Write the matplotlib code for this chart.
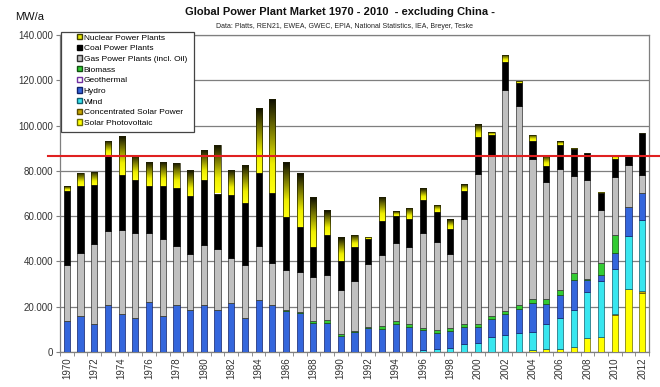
import numpy as np
import matplotlib
matplotlib.use("Agg")
import matplotlib.pyplot as plt
from matplotlib.patches import Patch, Rectangle
from matplotlib.colors import LinearSegmentedColormap
from matplotlib.ticker import FuncFormatter

plt.rcParams['font.family'] = ['Liberation Sans', 'DejaVu Sans']

years = list(range(1970, 2013))

# MW per year, stacking order bottom -> top
solar_pv = [0]*34 + [900, 1200, 1200, 2400, 6100, 6800, 16500, 27700, 26000]
csp = [0]*40 + [300, 0, 800]
wind = [0]*26 + [900, 1500, 1900, 3400, 3800, 6800, 7500, 8500, 8100, 11000,
                 14000, 16200, 20500, 24700, 20000, 23400, 31700]
hydro = [13500, 16000, 12300, 20700, 16700, 15200, 22000, 16100, 20600, 18600,
         20600, 18400, 21600, 15200, 22800, 20600, 18200, 17200, 12700, 13000,
         7100, 8900, 10400, 10100, 12300, 11000, 8600, 6800, 7400, 7800,
         7100, 7600, 9200, 10500, 12500, 9200, 10100, 13400, 5300, 2700,
         6800, 12800, 11900]
geothermal = [0]*43
biomass = [0]*15 + [300, 400, 400, 1200, 1200, 900, 500, 800, 1400, 1600,
                    1400, 1000, 1500, 1200, 1200, 1300, 1500, 1600, 1800, 1800,
                    1900, 2000, 2800, 400, 5000, 7900, 0, 0]
gas = [24800, 27800, 35500, 32900, 37200, 37200, 30400, 33600, 26400, 24900,
       26800, 26900, 20000, 23100, 24200, 18500, 17800, 17600, 19100, 19700,
       19500, 22000, 27800, 31300, 34100, 34100, 42200, 38900, 32700, 46300,
       66400, 70800, 97300, 88000, 61900, 51700, 53700, 42800, 43600, 23400,
       25600, 18700, 7600]
coal = [32900, 29500, 25900, 32800, 24400, 23400, 21000, 23700, 25500, 25500,
        28700, 24700, 27700, 27300, 32000, 30900, 23400, 20200, 13500, 17800,
        12900, 14800, 10700, 14900, 12100, 12100, 14500, 13200, 11200, 12500,
        16300, 9000, 12300, 10000, 7800, 7000, 10400, 12000, 11800, 7700,
        8100, 4600, 18800]
nuclear = [2200, 5900, 5800, 7000, 17300, 11400, 10600, 10600, 11100, 11400,
           13300, 21300, 11100, 17000, 28900, 41600, 24200, 23500, 22000, 10900,
           10400, 5600, 1300, 10800, 2200, 5200, 5200, 3200, 4300, 2800,
           5600, 1300, 3400, 1000, 2700, 4700, 1600, 300, 0, 500,
           1800, 0, 0]

reference_line = 86500
tick_labels = [str(y) if (y - 1970) % 2 == 0 else '' for y in years]

series = [
    ('Solar Photovoltaic', solar_pv, '#ffff00', '#6b6b00'),
    ('Concentrated Solar Power', csp, '#c8a800', '#5a4a00'),
    ('Wind', wind, '#38e6ef', '#106070'),
    ('Hydro', hydro, '#3466dc', '#10206a'),
    ('Geothermal', geothermal, '#ffffff', '#7030a0'),
    ('Biomass', biomass, '#33cc33', '#105010'),
    ('Gas Power Plants (incl. Oil)', gas, '#c0c0c0', '#303030'),
    ('Coal Power Plants', coal, '#000000', '#000000'),
]

fig = plt.figure(figsize=(6.6, 3.87), dpi=100)
W, H = 660, 387
ax = fig.add_axes([60/W, 1-352/H, 589/W, 317/H])

x = np.arange(len(years))
bw = 0.45
bottom = np.zeros(len(years))
for name, vals, fc, ec in series:
    v = np.array(vals, dtype=float)
    ax.bar(x, v, bw, bottom=bottom, color=fc, edgecolor=ec, linewidth=0.5, zorder=3)
    bottom += v

# nuclear with vertical gradient (yellow bottom -> black top)
nuc = np.array(nuclear, dtype=float)
cmap = LinearSegmentedColormap.from_list('nuc', [(0, '#ffff10'), (0.3, '#eeee00'), (1.0, '#0c0c00')])
grad = np.linspace(0, 1, 64).reshape(-1, 1)
bars = ax.bar(x, nuc, bw, bottom=bottom, facecolor='none', edgecolor='#202000', linewidth=0.5, zorder=4)
for b, v in zip(bars, nuc):
    if v <= 0:
        continue
    x0, y0, w, h = b.get_x(), b.get_y(), b.get_width(), b.get_height()
    im = ax.imshow(grad, extent=(x0, x0 + w, y0, y0 + h), origin='lower', aspect='auto',
                   cmap=cmap, zorder=3.5, interpolation='bilinear')
    im.set_clip_path(b)

ax.set_xlim(-0.5, len(years) - 0.5)
ax.set_ylim(0, 140000)
ax.set_yticks(np.arange(0, 140001, 20000))
ax.yaxis.set_major_formatter(FuncFormatter(lambda v, p: '0' if v == 0 else f"{int(v):,}".replace(',', '.')))
ax.grid(axis='y', color='#7f7f7f', linewidth=0.9, zorder=1)
ax.set_axisbelow(True)

ax.set_xticks(x)
ax.set_xticklabels(tick_labels, rotation=90, fontsize=7, color='#333333')
ax.tick_params(axis='x', length=0, pad=4)
ax.set_xticks(np.arange(-0.5, len(years), 1), minor=True)
ax.tick_params(axis='x', which='minor', length=3, color='#7f7f7f')
ax.tick_params(axis='y', labelsize=7, labelcolor='#333333', length=3, color='#7f7f7f', pad=2)
for s in ax.spines.values():
    s.set_color('#7f7f7f')
    s.set_linewidth(0.9)

ax.axhline(reference_line, xmin=-0.02, xmax=1.02, color='#e02020', linewidth=1.5, zorder=6, clip_on=False)

fig.text(340/W, 1-12/H, 'Global Power Plant Market 1970 - 2010  - excluding China -',
         ha='center', va='center', fontsize=8, fontweight='bold', color='#111111')
fig.text(345/W, 1-27/H, 'Data: Platts, REN21, EWEA, GWEC, EPIA, National Statistics, IEA, Breyer, Teske',
         ha='center', va='center', fontsize=5, color='#222222')
fig.text(15/W, 1-17/H, 'MW/a', ha='left', va='center', fontsize=8, color='#111111')

# legend box
box = Rectangle((61/W, 1-132/H), 133/W, 100/H, transform=fig.transFigure, facecolor='white',
                edgecolor='#444444', linewidth=0.9, zorder=9, clip_on=False)
ax.add_artist(box)

handles = [Patch(facecolor='#e6e600', edgecolor='#404000', label='Nuclear Power Plants')]
for name, vals, fc, ec in reversed(series):
    handles.append(Patch(facecolor=fc, edgecolor=ec, label=name))
leg = ax.legend(handles=handles, loc='upper left', bbox_to_anchor=(74/W, 1-31.5/H),
                bbox_transform=fig.transFigure, borderaxespad=0, fontsize=6.0,
                handlelength=0.6, handleheight=0.6, handletextpad=0.25, labelspacing=0.37,
                borderpad=0.3, frameon=False)
leg.set_zorder(10)

fig.savefig('out.png', dpi=100)
